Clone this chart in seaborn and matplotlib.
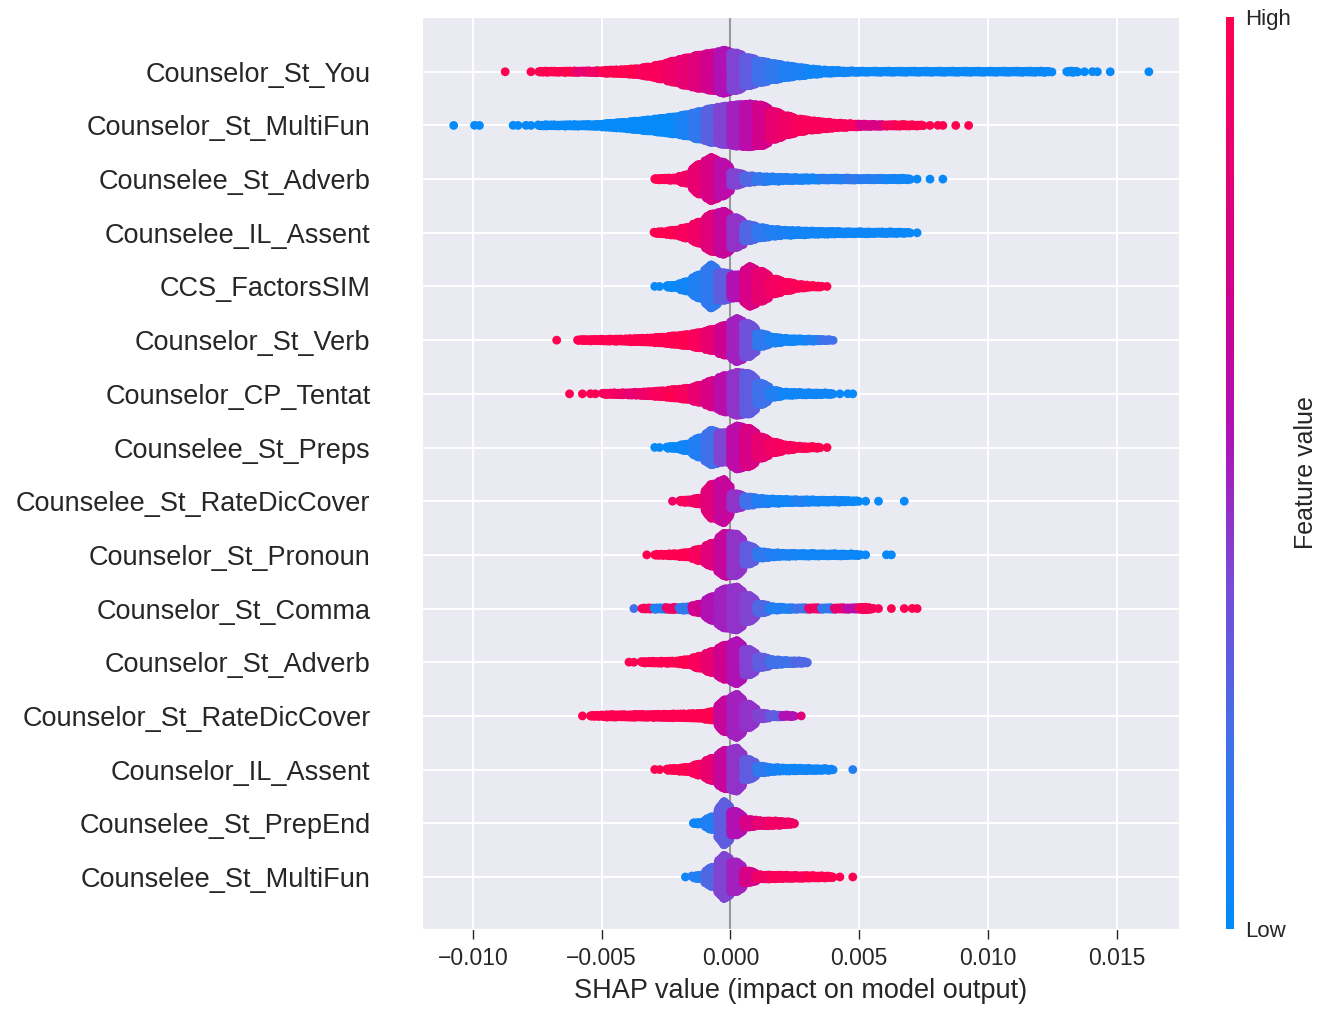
import matplotlib
matplotlib.use("Agg")
import numpy as np
import pandas as pd
import matplotlib.pyplot as plt
import seaborn as sns
from matplotlib.colors import LinearSegmentedColormap

# --- data read off the reference beeswarm --------------------------------
# every feature is described as a histogram of SHAP values on bins of
# width BIN, starting at the given left edge, plus the mean feature value
# (0 = low, 1 = high) of the points that fall in each bin
BIN = 0.0005

features = [
    "Counselor_St_You", "Counselor_St_MultiFun", "Counselee_St_Adverb",
    "Counselee_IL_Assent", "CCS_FactorsSIM", "Counselor_St_Verb",
    "Counselor_CP_Tentat", "Counselee_St_Preps", "Counselee_St_RateDicCover",
    "Counselor_St_Pronoun", "Counselor_St_Comma", "Counselor_St_Adverb",
    "Counselor_St_RateDicCover", "Counselor_IL_Assent", "Counselee_St_PrepEnd",
    "Counselee_St_MultiFun",
]

starts = [-0.009, -0.011, -0.003, -0.003, -0.003, -0.007, -0.0065, -0.003,
          -0.0025, -0.0035, -0.004, -0.004, -0.006, -0.003, -0.0015, -0.002]

you_n = [1, 0, 1, 3, 3, 4, 4, 5, 8, 10, 14, 22, 34, 50, 65, 78, 88, 100, 88, 66,
         50, 38, 28, 20, 13, 8, 6, 4] + [3] * 15 + [0, 3, 1, 2, 1, 0, 0, 1]
you_v = [1, 1, 1, 1, 1, 1, 0.85, 0.9, 1, 1, 1, 0.95, 0.95,
         0.9, 0.85, 0.8, 0.7, 0.55, 0.4, 0.3, 0.2, 0.15, 0.1, 0.08, 0.05, 0.05,
         0.05, 0.05] + [0.03] * 15 + [0.02] * 8

multifun_n = [1, 0, 2, 0, 0, 2, 2, 3, 3, 4, 4, 5, 10, 14, 20, 26, 33, 40, 50, 65,
              80, 90, 97, 100, 95, 65, 45, 30, 22, 16, 11, 8, 6, 5, 4, 4, 3, 1,
              2, 1, 1]
multifun_v = [0.02] * 18 + [0.08, 0.15, 0.28, 0.4, 0.5, 0.6, 0.72, 0.85, 0.9,
                            0.95] + [0.95] * 4 + [0.75, 0.75] + \
             [0.95, 1, 1, 1, 1, 1, 1]

ee_adverb_n = [4, 6, 20, 70, 100, 80, 30, 16, 12, 10, 8, 7, 6, 5, 5, 5, 4, 4, 4,
               4, 1, 1, 1]
ee_adverb_v = [1, 0.95, 0.9, 0.85, 0.75, 0.6, 0.4, 0.25, 0.15, 0.1,
               0.1, 0.08, 0.06, 0.12, 0.1, 0.15, 0.12, 0.1, 0.06, 0.05,
               0.03, 0.03, 0.03]

ee_assent_n = [5, 12, 25, 50, 88, 100, 70, 38, 24, 16, 12, 10, 8, 7, 6, 5, 5, 4,
               4, 3, 1]
ee_assent_v = [1, 1, 0.95, 0.9, 0.8, 0.65, 0.45, 0.25, 0.15, 0.1, 0.08, 0.06,
               0.05, 0.05, 0.05, 0.05, 0.04, 0.04, 0.04, 0.03, 0.03]

ccs_n = [2, 6, 22, 55, 100, 65, 55, 92, 70, 35, 20, 9, 4, 2]
ccs_v = [0.02, 0.02, 0.05, 0.1, 0.15, 0.3, 0.55, 0.75, 0.85, 0.92, 0.95, 0.97,
         1, 1]

verb_n = [1, 0, 3, 4, 5, 6, 8, 10, 14, 20, 26, 36, 50, 70, 100, 78, 30, 14, 8,
          6, 5, 3]
verb_v = [1] * 11 + [0.95, 0.85, 0.7, 0.5, 0.35, 0.15, 0.08, 0.05, 0.05, 0.1,
                     0.2]

tentat_n = [1, 1, 2, 4, 5, 7, 10, 14, 20, 26, 40, 62, 85, 100, 95, 50, 16, 8, 6,
            5, 4, 1, 2]
tentat_v = [1, 1, 1, 0.95, 0.9, 0.85, 0.9, 0.95, 1, 0.95,
            0.85, 0.75, 0.6, 0.45, 0.3, 0.2, 0.1,
            0.05, 0.05, 0.05, 0.05, 0.03, 0.03]

preps_n = [2, 5, 16, 45, 80, 70, 100, 90, 50, 25, 12, 6, 4, 1]
preps_v = [0.02, 0.02, 0.05, 0.1, 0.2, 0.4, 0.6, 0.75, 0.85, 0.92, 0.95, 0.97,
           1, 1]

ee_ratedic_n = [1, 6, 14, 80, 100, 35, 20, 13, 10, 8, 7, 6, 5, 5, 3, 1, 1, 0, 1]
ee_ratedic_v = [0.9, 0.95, 0.9, 0.8, 0.65, 0.45, 0.2, 0.1, 0.06, 0.05, 0.1,
                0.05, 0.05, 0.05, 0.03, 0.02, 0.02, 0.02, 0.02]

pronoun_n = [1, 3, 5, 10, 25, 50, 92, 90, 40, 14, 9, 7, 6, 6, 5, 5, 4, 2, 0, 2]
pronoun_v = [1, 1, 1, 1, 0.95, 0.8, 0.65, 0.45, 0.3, 0.15, 0.1, 0.08, 0.06,
             0.05, 0.05, 0.05, 0.04, 0.03, 0.03, 0.03]

comma_n = [1, 3, 4, 5, 8, 20, 55, 90, 98, 60, 20, 8, 5, 4, 4, 4, 4, 4, 6, 2, 1,
           1, 2]
comma_v = [0.2, 0.95, 0.1, 0.9, 0.15, 0.7, 0.55, 0.5, 0.45, 0.4, 0.25, 0.1,
           0.1, 0.2, 0.9, 0.15, 0.85, 0.6, 0.95, 0.95, 1, 1, 1]

adverb_n = [2, 4, 5, 6, 12, 28, 50, 80, 100, 60, 25, 12, 8, 6]
adverb_v = [1, 1, 1, 1, 1, 0.95, 0.85, 0.7, 0.55, 0.4, 0.3, 0.2, 0.2, 0.25]

ratedic_n = [1, 3, 6, 6, 7, 7, 8, 9, 10, 12, 20, 75, 100, 55, 14, 6, 4, 1]
ratedic_v = [1] * 11 + [0.65, 0.5, 0.45, 0.4, 0.3, 0.55, 0.8]

assent_n = [2, 5, 10, 25, 50, 85, 95, 45, 15, 9, 7, 6, 5, 4, 0, 1]
assent_v = [1, 1, 1, 0.95, 0.85, 0.65, 0.45, 0.3, 0.15, 0.08, 0.05, 0.05,
            0.05, 0.05, 0.05, 0.1]

prepend_n = [4, 30, 100, 55, 18, 12, 11, 7]
prepend_v = [0.05, 0.1, 0.3, 0.55, 0.75, 0.85, 0.9, 0.9]

ee_multifun_n = [1, 8, 45, 100, 70, 28, 10, 9, 8, 7, 6, 5, 1, 1]
ee_multifun_v = [0.05, 0.1, 0.25, 0.4, 0.5, 0.75, 0.9, 0.95, 0.95, 0.95, 1, 1,
                 1, 1]

counts = [you_n, multifun_n, ee_adverb_n, ee_assent_n, ccs_n, verb_n, tentat_n,
          preps_n, ee_ratedic_n, pronoun_n, comma_n, adverb_n, ratedic_n,
          assent_n, prepend_n, ee_multifun_n]
values = [you_v, multifun_v, ee_adverb_v, ee_assent_v, ccs_v, verb_v, tentat_v,
          preps_v, ee_ratedic_v, pronoun_v, comma_v, adverb_v, ratedic_v,
          assent_v, prepend_v, ee_multifun_v]

# --- beeswarm layout (points of a bin are stacked around the row) ---------
ROW_HALF = 0.40
DENSE = 4          # bins with 3+ points are drawn as solid bands
GOLD = 0.6180339887
n_feat = len(features)


def spread(need, hl, c, hr):
    """part of a bin (0..1) where the bin outline is at least `need` high;
    the outline runs from the edge averages to the bin count at its middle"""
    t0, t1 = 0.0, 1.0
    if hl < need:
        t0 = 0.5 if c <= hl else min(0.5, (need - hl) / (2 * (c - hl)))
    if hr < need:
        t1 = 0.5 if c <= hr else max(0.5, 0.5 + (c - need) / (2 * (c - hr)))
    return t0, t1


xs, ys, vs = [], [], []
for i in range(n_feat):
    row = n_feat - 1 - i
    cnt = counts[i]
    dy = 2 * ROW_HALF / (max(cnt) * DENSE)
    for k, (c, v) in enumerate(zip(cnt, values[i])):
        left = starts[i] + k * BIN
        n_pts = c * DENSE if c >= 3 else c
        prev = cnt[k - 1] * DENSE if k > 0 else 0
        nxt = cnt[k + 1] * DENSE if k + 1 < len(cnt) else 0
        hl, hr = (prev + n_pts) / 2, (n_pts + nxt) / 2
        for j in range(n_pts):
            layer = (j + 1) // 2
            u = (0.5 + j * GOLD) % 1.0
            if c >= 3:
                t0, t1 = spread(2 * layer, hl, n_pts, hr)
                u = t0 + (t1 - t0) * u
            xs.append(left + BIN * u)
            ys.append(row + (layer if j % 2 else -layer) * dy)
            vs.append(v)

df = pd.DataFrame({"shap": xs, "row": ys, "value": vs})

shap_cmap = LinearSegmentedColormap.from_list(
    "shap_red_blue",
    [(0.0, "#008bfb"), (0.2, "#3f72ea"), (0.38, "#7a4ad6"),
     (0.55, "#b010b4"), (0.7, "#d0008f"), (1.0, "#ff0051")])

# --- plot -----------------------------------------------------------------
sns.set_style("darkgrid")
plt.rcParams["font.family"] = ["Liberation Sans", "DejaVu Sans"]

fig = plt.figure(figsize=(13.25, 10.18), dpi=100)
ax = fig.add_axes([0.3185, 0.0874, 0.5713, 0.8959])

ax.axvline(0, color="#999999", lw=1.5, zorder=1)
sns.scatterplot(data=df, x="shap", y="row", hue="value", palette=shap_cmap,
                hue_norm=(0, 1), s=40, linewidth=0, legend=False, ax=ax,
                zorder=3)

ax.set_xlim(-0.01198, 0.01742)
ax.set_ylim(-0.97, n_feat + 0.02)
ax.set_xticks([-0.010, -0.005, 0.0, 0.005, 0.010, 0.015])
ax.set_yticks(range(n_feat))
ax.set_yticklabels(features[::-1])
ax.grid(True, color="white", lw=1.4)
ax.tick_params(axis="y", length=0, pad=37, labelsize=19.5)
ax.tick_params(axis="x", bottom=True, length=7, width=1, pad=6, labelsize=16.5)
ax.set_ylabel("")
ax.set_xlabel("SHAP value (impact on model output)", fontsize=19.5,
              labelpad=6)

cax = fig.add_axes([0.9253, 0.0874, 0.00604, 0.8959])
sm = plt.cm.ScalarMappable(cmap=shap_cmap, norm=plt.Normalize(0, 1))
cb = fig.colorbar(sm, cax=cax, ticks=[0, 1])
cb.set_ticklabels(["Low", "High"])
cb.outline.set_visible(False)
cb.ax.tick_params(labelsize=16, length=0, pad=8)
cb.set_label("Feature value", size=18, labelpad=2)

fig.savefig("out.png", dpi=100)
